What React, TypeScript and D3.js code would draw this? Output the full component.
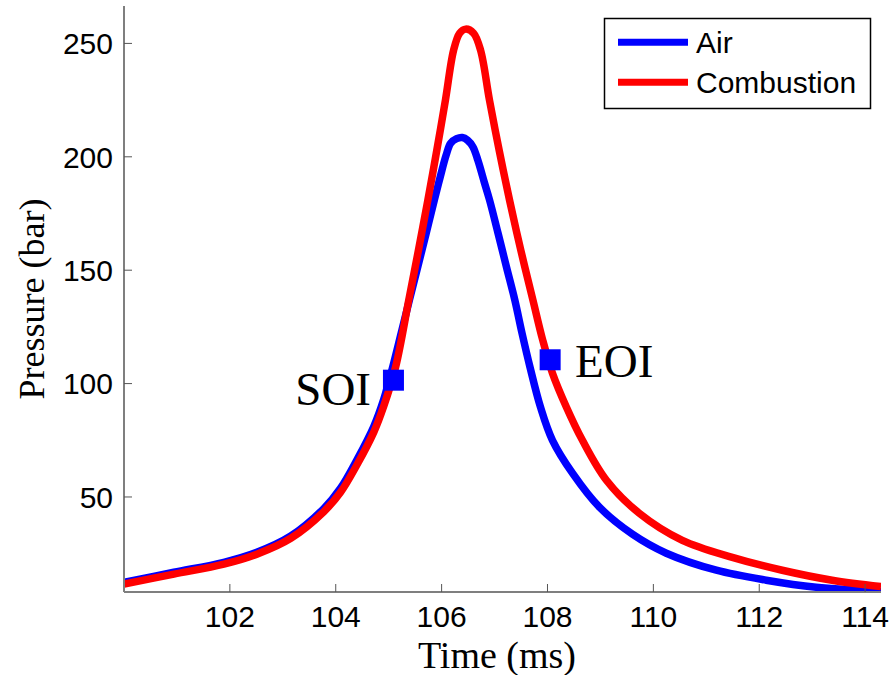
import React from "react";
import * as d3 from "d3";

// ---- data ----
const airTime = [100.0, 100.943, 101.887, 102.509, 103.151, 103.774, 104.094, 104.396, 104.717, 104.906, 105.075, 105.236, 105.391, 105.547, 105.708, 105.862, 105.972, 106.085, 106.17, 106.283, 106.391, 106.49, 106.591, 106.685, 106.811, 106.906, 107.066, 107.226, 107.383, 107.519, 107.67, 107.868, 108.094, 108.472, 108.981, 109.604, 110.245, 111.189, 112.132, 113.075, 114.3];
const airPressure = [12.4, 16.8, 21.2, 25.6, 32.8, 44.9, 54.0, 66.2, 81.0, 93.0, 107.2, 122.2, 136.8, 151.3, 166.3, 180.9, 191.0, 200.7, 206.0, 208.0, 208.5, 207.3, 204.4, 198.5, 188.4, 180.9, 166.3, 151.3, 136.8, 122.2, 107.2, 89.6, 75.0, 60.5, 45.5, 33.6, 25.2, 17.7, 13.3, 10.2, 8.4];

const combTime = [100.0, 100.943, 101.887, 102.509, 103.151, 103.774, 104.094, 104.396, 104.717, 104.906, 105.13, 105.379, 105.562, 105.74, 105.909, 106.072, 106.226, 106.34, 106.453, 106.604, 106.736, 106.904, 107.087, 107.283, 107.496, 107.725, 107.906, 108.094, 108.358, 108.66, 109.113, 109.736, 110.547, 111.491, 112.434, 113.377, 114.3];
const combPressure = [11.6, 16.0, 20.4, 24.8, 31.8, 43.5, 52.2, 64.0, 78.5, 90.0, 107.2, 136.8, 158.8, 180.9, 202.9, 225.0, 247.0, 254.5, 256.3, 254.5, 247.0, 225.0, 202.9, 180.9, 158.8, 136.8, 119.5, 104.6, 89.6, 75.0, 57.4, 42.8, 30.9, 23.4, 17.7, 13.3, 10.5];

const xTicks = [102, 104, 106, 108, 110, 112, 114];
const yTicks = [50, 100, 150, 200, 250];

const markerLabels = ["SOI", "EOI"];
const markerTime = [105.09, 108.05];
const markerPressure = [101.5, 110.5];

const seriesNames = ["Air", "Combustion"];
const seriesColors = ["#0000ff", "#ff0000"];

const xDomain = [100, 114.3];
const yDomain = [8.1, 266.5];

export default function App() {
  const W = 893, H = 675;
  const left = 124, right = 881, top = 6, bottom = 592;
  const x = d3.scaleLinear().domain(xDomain).range([left, right]);
  const y = d3.scaleLinear().domain(yDomain).range([bottom, top]);

  const line = d3
    .line<[number, number]>()
    .x((d) => x(d[0]))
    .y((d) => y(d[1]))
    .curve(d3.curveCatmullRom.alpha(0.5));

  const airPts = airTime.map((t, i) => [t, airPressure[i]] as [number, number]);
  const combPts = combTime.map((t, i) => [t, combPressure[i]] as [number, number]);

  const sans = "'Liberation Sans', Arial, sans-serif";
  const serif = "'Liberation Serif', 'Times New Roman', serif";

  return (
    <svg
      width={W}
      height={H}
      style={{ position: "absolute", left: 0, top: 0, background: "#fff" }}
    >
      <defs>
        <clipPath id="plotClip">
          <rect x={left} y={top} width={right - left} height={bottom - top} />
        </clipPath>
      </defs>
      <rect x={0} y={0} width={W} height={H} fill="#fff" />

      <g clipPath="url(#plotClip)">
        <path d={line(airPts) || ""} fill="none" stroke={seriesColors[0]} strokeWidth={7.5} strokeLinejoin="round" />
        <path d={line(combPts) || ""} fill="none" stroke={seriesColors[1]} strokeWidth={7.5} strokeLinejoin="round" />
      </g>

      {/* axes */}
      <line x1={left} y1={top} x2={left} y2={bottom} stroke="#7f7f7f" strokeWidth={2} />
      <line x1={left} y1={bottom} x2={right} y2={bottom} stroke="#7f7f7f" strokeWidth={2} />
      {yTicks.map((v) => (
        <g key={"y" + v}>
          <line x1={left} x2={left + 8} y1={y(v)} y2={y(v)} stroke="#555" strokeWidth={1} />
          <text x={113} y={y(v) + 10.7} textAnchor="end" fontFamily={sans} fontSize={30} fill="#000">
            {v}
          </text>
        </g>
      ))}
      {xTicks.map((v) => (
        <g key={"x" + v}>
          <line x1={x(v)} x2={x(v)} y1={bottom} y2={bottom - 8} stroke="#555" strokeWidth={1} />
          <text x={x(v)} y={627} textAnchor="middle" fontFamily={sans} fontSize={30} fill="#000">
            {v}
          </text>
        </g>
      ))}

      {/* axis titles */}
      <text x={497} y={668} textAnchor="middle" fontFamily={serif} fontSize={38} fill="#000">
        Time (ms)
      </text>
      <text
        transform={`translate(44, ${(top + bottom) / 2}) rotate(-90)`}
        textAnchor="middle"
        fontFamily={serif}
        fontSize={36}
        fill="#000"
      >
        Pressure (bar)
      </text>

      {/* markers */}
      {markerTime.map((t, i) => (
        <rect
          key={"m" + i}
          x={x(t) - 10.5}
          y={y(markerPressure[i]) - 10.5}
          width={21}
          height={21}
          fill="#0000ff"
        />
      ))}
      <text x={371} y={405} textAnchor="end" fontFamily={serif} fontSize={47} fill="#000">
        {markerLabels[0]}
      </text>
      <text x={575} y={377} textAnchor="start" fontFamily={serif} fontSize={47} fill="#000">
        {markerLabels[1]}
      </text>

      {/* legend */}
      <rect x={604.5} y={18.5} width={266} height={90} fill="#fff" stroke="#000" strokeWidth={1.5} />
      {seriesNames.map((name, i) => (
        <g key={name}>
          <line x1={618} x2={688} y1={42.3 + i * 40} y2={42.3 + i * 40} stroke={seriesColors[i]} strokeWidth={7} />
          <text x={696} y={53.3 + i * 40} fontFamily={sans} fontSize={30} fill="#000">
            {name}
          </text>
        </g>
      ))}
    </svg>
  );
}
